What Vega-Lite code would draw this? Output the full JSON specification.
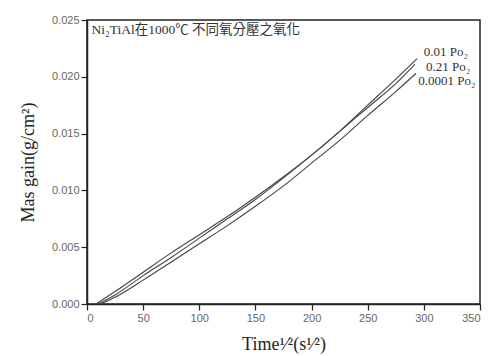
{
  "$schema": "https://vega.github.io/schema/vega-lite/v6.json",
  "width": 393,
  "height": 284,
  "autosize": "none",
  "padding": {"left": 87, "top": 20, "right": 11, "bottom": 52},
  "background": "white",
  "config": {
    "view": {"stroke": "#222", "strokeWidth": 1.5},
    "axis": {
      "domainColor": "#222", "domainWidth": 1.5,
      "tickColor": "#222", "tickWidth": 1.2,
      "labelFont": "Liberation Sans", "labelFontSize": 11, "labelColor": "#666",
      "titleFont": "Liberation Serif", "titleFontWeight": "normal", "titleColor": "#222",
      "grid": false
    }
  },
  "datasets": {
    "curves": [
      {"s": "0.01", "t": 10, "m": 0}, {"s": "0.01", "t": 25, "m": 0.0008}, {"s": "0.01", "t": 50, "m": 0.0025}, {"s": "0.01", "t": 75, "m": 0.0041}, {"s": "0.01", "t": 100, "m": 0.0058}, {"s": "0.01", "t": 125, "m": 0.0075}, {"s": "0.01", "t": 150, "m": 0.0092}, {"s": "0.01", "t": 175, "m": 0.0111}, {"s": "0.01", "t": 200, "m": 0.0131}, {"s": "0.01", "t": 225, "m": 0.0152}, {"s": "0.01", "t": 250, "m": 0.0175}, {"s": "0.01", "t": 275, "m": 0.0198}, {"s": "0.01", "t": 294, "m": 0.0216},
      {"s": "0.21", "t": 8, "m": 0}, {"s": "0.21", "t": 25, "m": 0.0011}, {"s": "0.21", "t": 50, "m": 0.0028}, {"s": "0.21", "t": 75, "m": 0.0045}, {"s": "0.21", "t": 100, "m": 0.0061}, {"s": "0.21", "t": 125, "m": 0.0077}, {"s": "0.21", "t": 150, "m": 0.0094}, {"s": "0.21", "t": 175, "m": 0.0112}, {"s": "0.21", "t": 200, "m": 0.0131}, {"s": "0.21", "t": 225, "m": 0.0152}, {"s": "0.21", "t": 250, "m": 0.0173}, {"s": "0.21", "t": 275, "m": 0.0194}, {"s": "0.21", "t": 292, "m": 0.0211},
      {"s": "0.0001", "t": 12, "m": 0}, {"s": "0.0001", "t": 25, "m": 0.0006}, {"s": "0.0001", "t": 50, "m": 0.0021}, {"s": "0.0001", "t": 75, "m": 0.0037}, {"s": "0.0001", "t": 100, "m": 0.0053}, {"s": "0.0001", "t": 125, "m": 0.0069}, {"s": "0.0001", "t": 150, "m": 0.0086}, {"s": "0.0001", "t": 175, "m": 0.0104}, {"s": "0.0001", "t": 200, "m": 0.0124}, {"s": "0.0001", "t": 225, "m": 0.0144}, {"s": "0.0001", "t": 250, "m": 0.0166}, {"s": "0.0001", "t": 275, "m": 0.0187}, {"s": "0.0001", "t": 293, "m": 0.0203}
    ],
    "labels": [
      {"t": 300, "m": 0.0222, "txt": "0.01 Po₂"},
      {"t": 302, "m": 0.02086, "txt": "0.21 Po₂"},
      {"t": 295, "m": 0.01963, "txt": "0.0001 Po₂"}
    ],
    "heading": [
      {"t": 4, "m": 0.0241, "txt": "Ni₂TiAl在1000℃ 不同氧分壓之氧化"}
    ]
  },
  "layer": [
    {
      "data": {"name": "curves"},
      "mark": {"type": "line", "interpolate": "monotone", "color": "#444", "strokeWidth": 1.1},
      "encoding": {
        "x": {
          "field": "t", "type": "quantitative",
          "scale": {"domain": [0, 350], "nice": false, "zero": false},
          "axis": {
            "values": [0, 25, 50, 75, 100, 125, 150, 175, 200, 225, 250, 275, 300, 325, 350],
            "labelExpr": "datum.value % 50 === 0 ? datum.label : ''",
            "tickSize": {"condition": {"test": "datum.value % 50 !== 0", "value": 4}, "value": 6},
            "labelPadding": 2,
            "title": "Time¹⁄²(s¹⁄²)",
            "titleFontSize": 18, "titlePadding": 12
          }
        },
        "y": {
          "field": "m", "type": "quantitative",
          "scale": {"domain": [0, 0.025], "nice": false, "zero": false},
          "axis": {
            "values": [0, 0.0025, 0.005, 0.0075, 0.01, 0.0125, 0.015, 0.0175, 0.02, 0.0225, 0.025],
            "format": ".3f",
            "labelExpr": "abs(datum.value*200 - round(datum.value*200)) < 0.01 ? datum.label : ''",
            "tickSize": {"condition": {"test": "abs(datum.value*200 - round(datum.value*200)) > 0.01", "value": 4}, "value": 6},
            "labelPadding": 2,
            "title": "Mas gain(g/cm²)",
            "titleFontSize": 18, "titlePadding": 14
          }
        },
        "detail": {"field": "s"}
      }
    },
    {
      "data": {"name": "labels"},
      "mark": {"type": "text", "align": "left", "baseline": "middle", "font": "Liberation Serif", "fontSize": 13, "color": "#333"},
      "encoding": {
        "x": {"field": "t", "type": "quantitative"},
        "y": {"field": "m", "type": "quantitative"},
        "text": {"field": "txt"}
      }
    },
    {
      "data": {"name": "heading"},
      "mark": {"type": "text", "align": "left", "baseline": "middle", "font": "Liberation Serif, Noto Sans CJK TC", "fontSize": 13.5, "color": "#333"},
      "encoding": {
        "x": {"field": "t", "type": "quantitative"},
        "y": {"field": "m", "type": "quantitative"},
        "text": {"field": "txt"}
      }
    }
  ]
}
